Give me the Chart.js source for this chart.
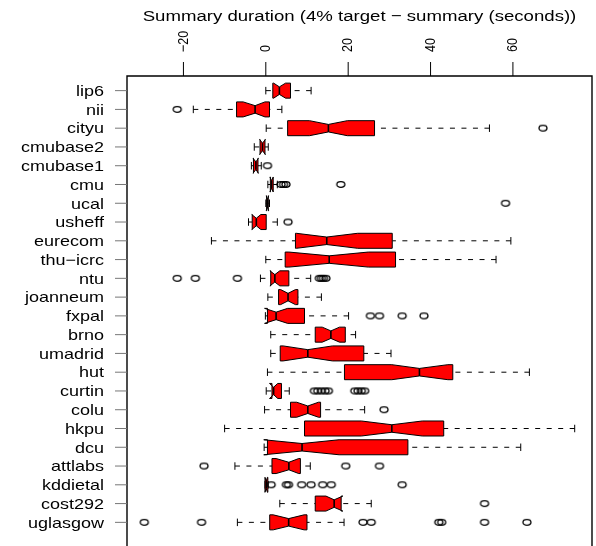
<!DOCTYPE html>
<html>
<head>
<meta charset="utf-8">
<script src="https://cdn.jsdelivr.net/npm/chart.js@4/dist/chart.umd.min.js"></script>
<style>
  html, body { margin: 0; padding: 0; background: #fff; overflow: hidden; }
  canvas { display: block; }
</style>
</head>
<body>
<canvas id="durationChart" width="596" height="546"></canvas>
<script>
// runs, top to bottom
const runs = ['lip6', 'nii', 'cityu', 'cmubase2', 'cmubase1', 'cmu', 'ucal', 'usheff',
  'eurecom', 'thu\u2212icrc', 'ntu', 'joanneum', 'fxpal', 'brno', 'umadrid', 'hut',
  'curtin', 'colu', 'hkpu', 'dcu', 'attlabs', 'kddietal', 'cost292', 'uglasgow'];

// five number summaries (seconds)
const whiskerLow    = [0, -17.6, 0.1, -2.8, -3.5, 0.5, 0.0, -4.2, -13.2, 0.0, -1.3, 0.5, -0.1, 1.2, 1.2, 0.4, 0.1, -0.3, -10.0, -0.4, -7.5, -0.2, 3.4, -6.9];
const lowerQuartile = [1.7, -7.1, 5.3, -1.4, -3.0, 1.1, 0.2, -3.3, 7.2, 4.7, 1.2, 3.1, 0.4, 12.0, 3.5, 19.1, 1.5, 6.0, 9.4, 0.4, 1.5, -0.2, 12.0, 0.95];
const medians       = [3.3, -2.6, 15.2, -0.8, -2.4, 1.4, 0.4, -2.3, 14.8, 15.4, 2.2, 5.4, 2.5, 15.8, 10.2, 37.3, 1.9, 10.2, 30.6, 8.8, 5.6, 0.1, 16.6, 5.55];
const upperQuartile = [6.0, 0.9, 26.4, -0.2, -1.9, 1.8, 0.6, 0.1, 30.7, 31.5, 5.6, 7.8, 9.4, 19.3, 23.8, 45.4, 3.8, 13.3, 43.2, 34.5, 8.4, 0.5, 18.3, 10.0];
const whiskerHigh   = [11.0, 3.9, 54.3, 0.6, -1.1, 2.8, 0.9, 2.8, 59.5, 55.9, 10.9, 13.5, 20.1, 21.8, 30.4, 64.0, 5.7, 24.0, 75.0, 61.9, 10.8, 0.6, 25.6, 19.0];

// notch limits around the median
const notchLow  = [1.9, -5.5, 10.6, -1.5, -3.1, 1.0, 0.1, -3.4, 7.4, 5.6, 1.0, 3.6, -0.3, 13.7, 4.2, 30.6, 0.9, 7.5, 23.2, -0.5, 2.5, -0.2, 14.6, 1.8];
const notchHigh = [4.8, -0.2, 19.8, -0.1, -1.8, 1.8, 0.7, -1.2, 22.3, 24.9, 3.4, 7.2, 5.3, 17.9, 16.2, 44.2, 2.9, 12.8, 38.0, 17.8, 8.0, 0.4, 18.7, 9.3];

const outliers = [
  [],
  [-21.5],
  [67.3],
  [],
  [0.4],
  [3.7, 4.3, 4.9, 18.2],
  [58.2],
  [5.4],
  [],
  [],
  [-21.5, -17.1, -6.9, 13.0, 13.5, 14.0, 14.6],
  [],
  [25.4, 27.6, 33.1, 38.4],
  [],
  [],
  [],
  [11.8, 12.6, 13.5, 14.4, 15.2, 21.6, 22.4, 23.2, 24.0],
  [28.7],
  [],
  [],
  [-15.0, 19.4, 27.6],
  [1.3, 5.0, 5.5, 8.7, 11.0, 13.8, 15.9, 33.1],
  [53.1],
  [-29.5, -15.6, 23.6, 25.6, 42.0, 42.7, 53.1, 63.4]
];

const xTicks = [-20, 0, 20, 40, 60];
const chartTitle = 'Summary duration (4% target \u2212 summary (seconds))';

const outlierPoints = [];
outliers.forEach((list, i) => list.forEach(v => outlierPoints.push({ x: v, y: i })));

// open ellipse marker, the plot is a little wider than tall
const ring = document.createElement('canvas');
ring.width = 12;
ring.height = 9;
const rc = ring.getContext('2d');
rc.strokeStyle = '#000';
rc.lineWidth = 1.3;
rc.beginPath();
rc.ellipse(6, 4.5, 4.0, 2.8, 0, 0, Math.PI * 2);
rc.stroke();

const stretch = 1.2;
const fontFamily = '"Liberation Sans", Arial, Helvetica, sans-serif';

const boxPlot = {
  id: 'boxPlot',
  beforeDatasetsDraw(chart) {
    const { ctx, scales: { x, y } } = chart;
    const h = y.getPixelForValue(0.4) - y.getPixelForValue(0);
    const staple = h / 2;
    const px = v => x.getPixelForValue(v);

    runs.forEach((name, i) => {
      const yc = y.getPixelForValue(i);
      ctx.save();
      ctx.strokeStyle = '#000';
      ctx.lineWidth = 1;

      // dashed whiskers, drawn from the ends inwards
      ctx.setLineDash([5, 6.5]);
      ctx.beginPath();
      ctx.moveTo(px(whiskerLow[i]), yc);
      ctx.lineTo(px(lowerQuartile[i]), yc);
      ctx.moveTo(px(whiskerHigh[i]), yc);
      ctx.lineTo(px(upperQuartile[i]), yc);
      ctx.stroke();
      ctx.setLineDash([]);

      // staples
      ctx.beginPath();
      [whiskerLow[i], whiskerHigh[i]].forEach(v => {
        ctx.moveTo(px(v), yc - staple);
        ctx.lineTo(px(v), yc + staple);
      });
      ctx.stroke();

      // notched box
      const q1 = px(lowerQuartile[i]), q3 = px(upperQuartile[i]);
      const n1 = px(notchLow[i]), n2 = px(notchHigh[i]), m = px(medians[i]);
      const pts = [[q1, -h], [n1, -h], [m, -h / 2], [n2, -h], [q3, -h],
                   [q3, h], [n2, h], [m, h / 2], [n1, h], [q1, h]];
      ctx.beginPath();
      pts.forEach(([px0, dy], k) => k ? ctx.lineTo(px0, yc + dy) : ctx.moveTo(px0, yc + dy));
      ctx.closePath();
      ctx.fillStyle = '#ff0000';
      ctx.fill();
      ctx.stroke();

      // median
      ctx.lineWidth = 1.6;
      ctx.beginPath();
      ctx.moveTo(m, yc - h / 2);
      ctx.lineTo(m, yc + h / 2);
      ctx.stroke();
      ctx.restore();
    });
  },
  afterDraw(chart) {
    const { ctx, chartArea: a, scales: { x, y } } = chart;
    ctx.save();

    // frame (bottom runs off the page)
    ctx.strokeStyle = '#000';
    ctx.lineWidth = 1.4;
    ctx.beginPath();
    ctx.moveTo(a.left, a.bottom + 5);
    ctx.lineTo(a.left, a.top);
    ctx.lineTo(a.right, a.top);
    ctx.lineTo(a.right, a.bottom + 5);
    ctx.stroke();

    // top axis ticks and rotated labels
    ctx.lineWidth = 1;
    ctx.fillStyle = '#000';
    ctx.font = '12.5px ' + fontFamily;
    xTicks.forEach(v => {
      const tx = x.getPixelForValue(v);
      ctx.beginPath();
      ctx.moveTo(tx, 62);
      ctx.lineTo(tx, a.top);
      ctx.stroke();
      ctx.save();
      ctx.translate(tx, 52);
      ctx.scale(stretch, 1);
      ctx.rotate(-Math.PI / 2);
      ctx.textAlign = 'left';
      ctx.textBaseline = 'middle';
      ctx.fillText(String(v).replace('-', '\u2212'), 0, 0);
      ctx.restore();
    });

    // run names on the left axis
    ctx.font = '15px ' + fontFamily;
    runs.forEach((name, i) => {
      const yc = y.getPixelForValue(i);
      ctx.strokeStyle = '#777';
      ctx.beginPath();
      ctx.moveTo(115, yc);
      ctx.lineTo(a.left, yc);
      ctx.stroke();
      ctx.save();
      ctx.translate(104, yc + 5.3);
      ctx.scale(stretch, 1);
      ctx.textAlign = 'right';
      ctx.textBaseline = 'alphabetic';
      ctx.fillText(name, 0, 0);
      ctx.restore();
    });

    // title
    ctx.font = '15.5px ' + fontFamily;
    ctx.translate((a.left + a.right) / 2, 21);
    ctx.scale(stretch, 1);
    ctx.textAlign = 'center';
    ctx.textBaseline = 'alphabetic';
    ctx.fillText(chartTitle, 0, 0);
    ctx.restore();
  }
};

new Chart(document.getElementById('durationChart'), {
  type: 'scatter',
  data: {
    datasets: [{
      data: outlierPoints,
      pointStyle: ring,
      pointRadius: 4,
      showLine: false
    }]
  },
  options: {
    responsive: false,
    animation: false,
    events: [],
    devicePixelRatio: 1,
    layout: { autoPadding: false, padding: { left: 127, top: 76, right: 4, bottom: 0 } },
    plugins: {
      legend: { display: false },
      title: { display: false },
      tooltip: { enabled: false }
    },
    scales: {
      x: { type: 'linear', display: false, min: -33.7, max: 79.2 },
      y: { type: 'linear', display: false, min: -0.78, max: 24.26, reverse: true }
    }
  },
  plugins: [boxPlot]
});
</script>
</body>
</html>
